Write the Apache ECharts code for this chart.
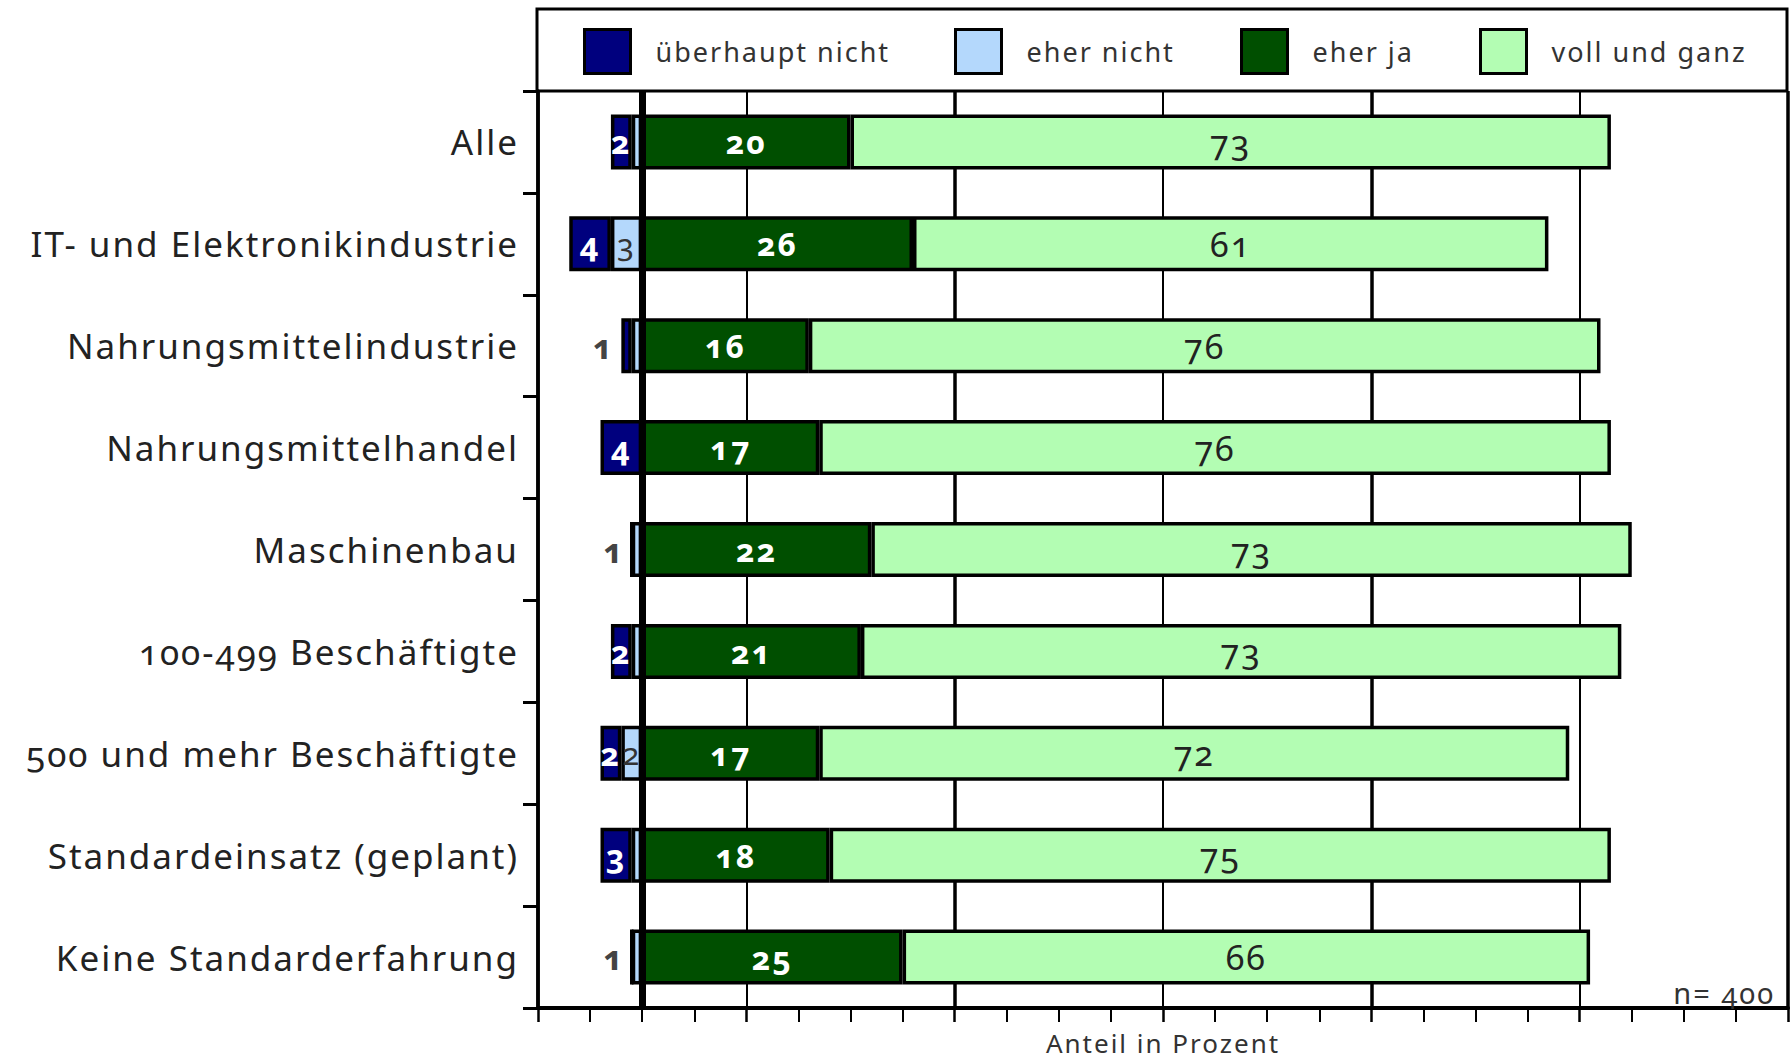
<!DOCTYPE html>
<html>
<head>
<meta charset="utf-8">
<title>Zustimmung nach Gruppen</title>
<script src="https://cdn.jsdelivr.net/npm/echarts@6/dist/echarts.min.js"></script>
<style>
  html, body { margin: 0; padding: 0; background: #fff; }
  #chart { width: 1790px; height: 1062px; }
  /* old-style figures and open tracking, as in the house typeface */
  #chart text { font-feature-settings: "onum" 1 !important; letter-spacing: 2px; }
</style>
</head>
<body>
<div id="chart"></div>
<script>
// Anteil in Prozent je Gruppe
const categories = [
  'Alle',
  'IT- und Elektronikindustrie',
  'Nahrungsmittelindustrie',
  'Nahrungsmittelhandel',
  'Maschinenbau',
  '100-499 Beschäftigte',
  '500 und mehr Beschäftigte',
  'Standardeinsatz (geplant)',
  'Keine Standarderfahrung'
];
const seriesNames = ['überhaupt nicht', 'eher nicht', 'eher ja', 'voll und ganz'];
const ueberhauptNicht = [2, 4, 1, 4, 0, 2, 2, 3, 0];
const eherNicht       = [1, 3, 1, 0, 1, 1, 2, 1, 1];
const eherJa          = [20, 26, 16, 17, 22, 21, 17, 18, 25];
const vollUndGanz     = [73, 61, 76, 76, 73, 73, 72, 75, 66];
const sampleNote = 'n= 400';
const axisTitle = 'Anteil in Prozent';

const colors = {
  'überhaupt nicht': '#00007e',
  'eher nicht': '#b4d8fc',
  'eher ja': '#004f00',
  'voll und ganz': '#b3fdb3'
};

const FONT = "'Noto Sans', 'DejaVu Sans', sans-serif";

const chart = echarts.init(document.getElementById('chart'), null, { renderer: 'svg' });

// label for a single segment: small outermost values go outside on the left
function segLabel(value, outermost, inside) {
  if (value === 0) return { show: false };
  if (value === 1) {
    if (!outermost) return { show: false };
    return { show: true, position: 'left', distance: 7, color: '#444', fontWeight: 'bold', fontSize: 34 };
  }
  return Object.assign({ show: true, position: 'inside' }, inside);
}

const darkInside = { color: '#fff', fontWeight: 'bold', fontSize: 32, fontFamily: FONT };
const lightInside = { color: '#333', fontWeight: 'normal', fontSize: 31, fontFamily: FONT };

const eherNichtData = eherNicht.map((v, i) => ({
  value: -v,
  label: segLabel(v, ueberhauptNicht[i] === 0, lightInside)
}));
const ueberhauptData = ueberhauptNicht.map((v, i) => ({
  value: -v,
  label: segLabel(v, true, darkInside)
}));

const barCommon = {
  type: 'bar',
  stack: 'total',
  barWidth: 55,
  z: 3,
  itemStyle: { borderColor: '#000', borderWidth: 3.5 },
  label: {
    fontFamily: FONT,
    formatter: p => String(Math.abs(p.value))
  },
  emphasis: { disabled: true }
};

function legendAt(left, name) {
  return {
    left: left,
    top: 28,
    padding: 0,
    data: [name],
    icon: 'rect',
    itemWidth: 46,
    itemHeight: 44,
    itemStyle: { borderColor: '#000', borderWidth: 3 },
    textStyle: { fontFamily: FONT, fontSize: 27, color: '#333', padding: [0, 0, 0, 20] },
    selectedMode: false
  };
}

chart.setOption({
  animation: false,
  backgroundColor: '#fff',
  textStyle: { fontFamily: FONT },
  legend: [
    legendAt(583, seriesNames[0]),
    legendAt(954, seriesNames[1]),
    legendAt(1240, seriesNames[2]),
    legendAt(1479, seriesNames[3])
  ],
  grid: { left: 538, right: 2, top: 91, bottom: 54, containLabel: false, outerBoundsMode: 'none' },
  xAxis: [
    {
      type: 'value',
      min: -10,
      max: 110,
      interval: 20,
      name: axisTitle,
      nameLocation: 'middle',
      nameGap: 22,
      nameTextStyle: { fontFamily: FONT, fontSize: 26, color: '#333' },
      axisLine: { show: true, lineStyle: { color: '#000', width: 4 } },
      axisTick: { show: true, length: 14, lineStyle: { color: '#000', width: 2.5 } },
      minorTick: { show: true, splitNumber: 4, length: 14, lineStyle: { color: '#000', width: 2 } },
      axisLabel: { show: false },
      splitLine: { show: true, lineStyle: { color: '#000', width: 2 } }
    },
    {
      // heavier grid lines every 40 from -10
      type: 'value',
      position: 'top',
      min: -10,
      max: 110,
      interval: 40,
      axisLine: { show: false },
      axisTick: { show: false },
      axisLabel: { show: false },
      splitLine: { show: true, lineStyle: { color: '#000', width: 3.5 } }
    }
  ],
  yAxis: {
    type: 'category',
    data: categories,
    inverse: true,
    axisLine: { show: true, onZero: false, lineStyle: { color: '#000', width: 3.5 } },
    axisTick: { show: true, length: 15, alignWithLabel: false, lineStyle: { color: '#000', width: 3 } },
    axisLabel: { margin: 19, fontFamily: FONT, fontSize: 35, color: '#222' },
    splitLine: { show: false }
  },
  graphic: [
    {
      type: 'rect',
      shape: { x: 537, y: 9, width: 1250, height: 82 },
      style: { fill: 'none', stroke: '#000', lineWidth: 3 },
      z: 10
    },
    {
      type: 'text',
      x: 1775, y: 992,
      style: { text: sampleNote, align: 'right', verticalAlign: 'middle', fontFamily: FONT, fontSize: 29, fill: '#333' },
      z: 10
    }
  ],
  series: [
    Object.assign({}, barCommon, {
      name: seriesNames[1], data: eherNichtData, itemStyle: Object.assign({ color: colors['eher nicht'] }, barCommon.itemStyle)
    }),
    Object.assign({}, barCommon, {
      name: seriesNames[0], data: ueberhauptData, itemStyle: Object.assign({ color: colors['überhaupt nicht'] }, barCommon.itemStyle)
    }),
    Object.assign({}, barCommon, {
      name: seriesNames[2], data: eherJa,
      itemStyle: Object.assign({ color: colors['eher ja'] }, barCommon.itemStyle),
      label: Object.assign({}, barCommon.label, { show: true, position: 'inside', color: '#fff', fontWeight: 'bold', fontSize: 32 })
    }),
    Object.assign({}, barCommon, {
      name: seriesNames[3], data: vollUndGanz,
      itemStyle: Object.assign({ color: colors['voll und ganz'] }, barCommon.itemStyle),
      label: Object.assign({}, barCommon.label, { show: true, position: 'inside', color: '#222', fontWeight: 'normal', fontSize: 34 })
    }),
    // zero line drawn over the bars
    {
      name: 'zero-line', type: 'line', data: [], z: 8, silent: true,
      markLine: {
        silent: true, symbol: 'none', z: 8, label: { show: false },
        lineStyle: { color: '#000', width: 7, type: 'solid' },
        data: [{ xAxis: 0 }]
      }
    }
  ]
});
</script>
</body>
</html>
